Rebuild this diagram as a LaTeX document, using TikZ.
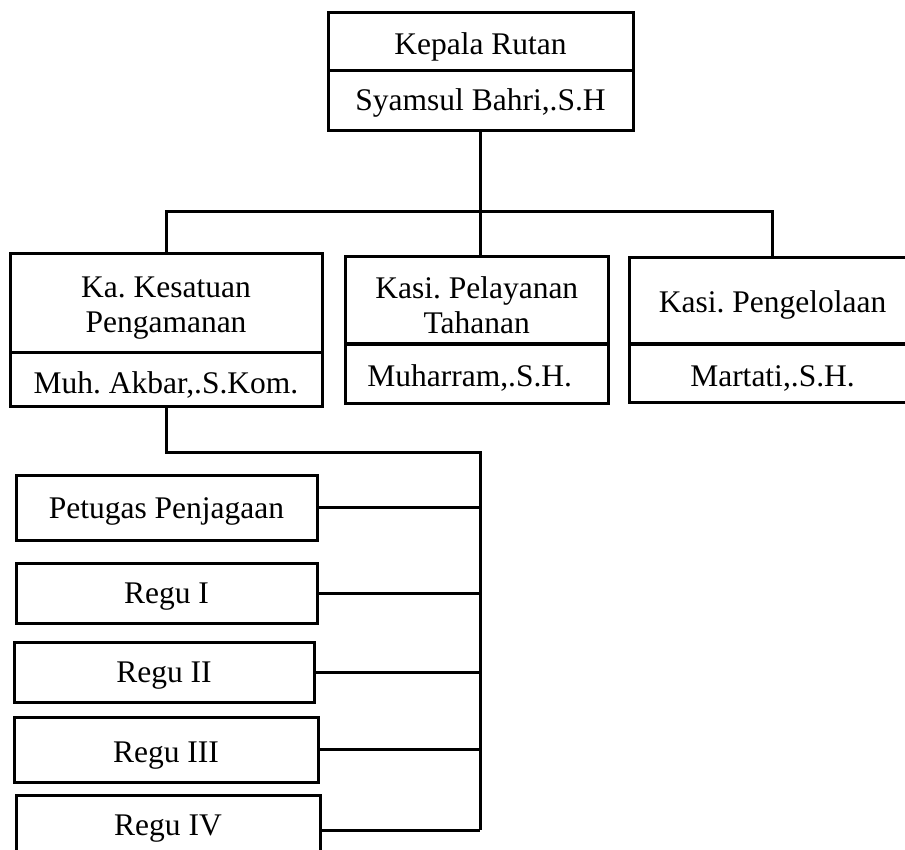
\documentclass[tikz,border=0pt]{standalone}
\usepackage{fontspec}
\setmainfont{Liberation Serif}
\frenchspacing
\begin{document}
\begin{tikzpicture}[x=1pt,y=-1pt,
  box/.style={draw,line width=3pt,rectangle,inner sep=0pt,align=center,
    text height=22pt,text depth=0pt,
    font=\fontsize{31.5}{35}\selectfont\frenchspacing},
  link/.style={line width=3pt}]
\useasboundingbox (0,0) rectangle (905,850);
% top
\node[box,minimum width=305,minimum height=58,text height=26pt] (k1) at (480.5,42) {Kepala Rutan};
\node[box,minimum width=305,minimum height=60,text height=20pt] (k2) at (480.5,101) {Syamsul Bahri,.S.H};
% second level
\node[box,minimum width=312,minimum height=98,text height=59pt,text depth=0pt] (a1) at (166,303) {Ka. Kesatuan\\Pengamanan};
\node[box,minimum width=312,minimum height=54,text height=28pt] (a2) at (166,379) {Muh. Akbar,.S.Kom.};
\node[box,minimum width=263.5,minimum height=87,text height=67pt,text depth=0pt] (b1) at (476.75,300.5) {Kasi. Pelayanan\\Tahanan};
\node[box,minimum width=263.5,minimum height=59,text height=26pt] (b2) at (476.75,373.5) {Muharram,.S.H.\kern14pt};
\node[box,minimum width=287,minimum height=86,text height=24pt] (c1) at (772.5,301) {Kasi. Pengelolaan};
\node[box,minimum width=287,minimum height=58.5,text height=27pt] (c2) at (772.5,373.25) {Martati,.S.H.};
% third level
\node[box,minimum width=301,minimum height=65,text height=21pt] (p) at (166.5,507.5) {Petugas Penjagaan};
\node[box,minimum width=301,minimum height=60,text height=20pt] (r1) at (166.5,593) {Regu I};
\node[box,minimum width=300,minimum height=60,text height=20pt] (r2) at (164,672) {Regu II};
\node[box,minimum width=304,minimum height=65,text height=25pt] (r3) at (166,749.5) {Regu III};
\node[box,minimum width=304,minimum height=66,text height=14pt] (r4) at (168,828) {Regu IV};
% connectors
\coordinate (hl) at (166,212);
\coordinate (hr) at (772.5,212);
\coordinate (hm) at (480.5,212);
\draw[link] (k2.south) -- (hm);
\draw[link] (a1.north) -- (hl) -- (hr) -- (c1.north);
\draw[link] (hm) -- (hm |- b1.north);
\coordinate (sl) at (166,452);
\coordinate (sr) at (480,452);
\coordinate (se) at (480,830);
\draw[link] (a2.south) -- (sl) -- (sr) -- (se);
\draw[link] (p.east) -- (p.east -| sr);
\draw[link] (r1.east) -- (r1.east -| sr);
\draw[link] (r2.east) -- (r2.east -| sr);
\draw[link] (r3.east) -- (r3.east -| sr);
\draw[link] (r4.east |- se) -- (se);
\end{tikzpicture}
\end{document}
